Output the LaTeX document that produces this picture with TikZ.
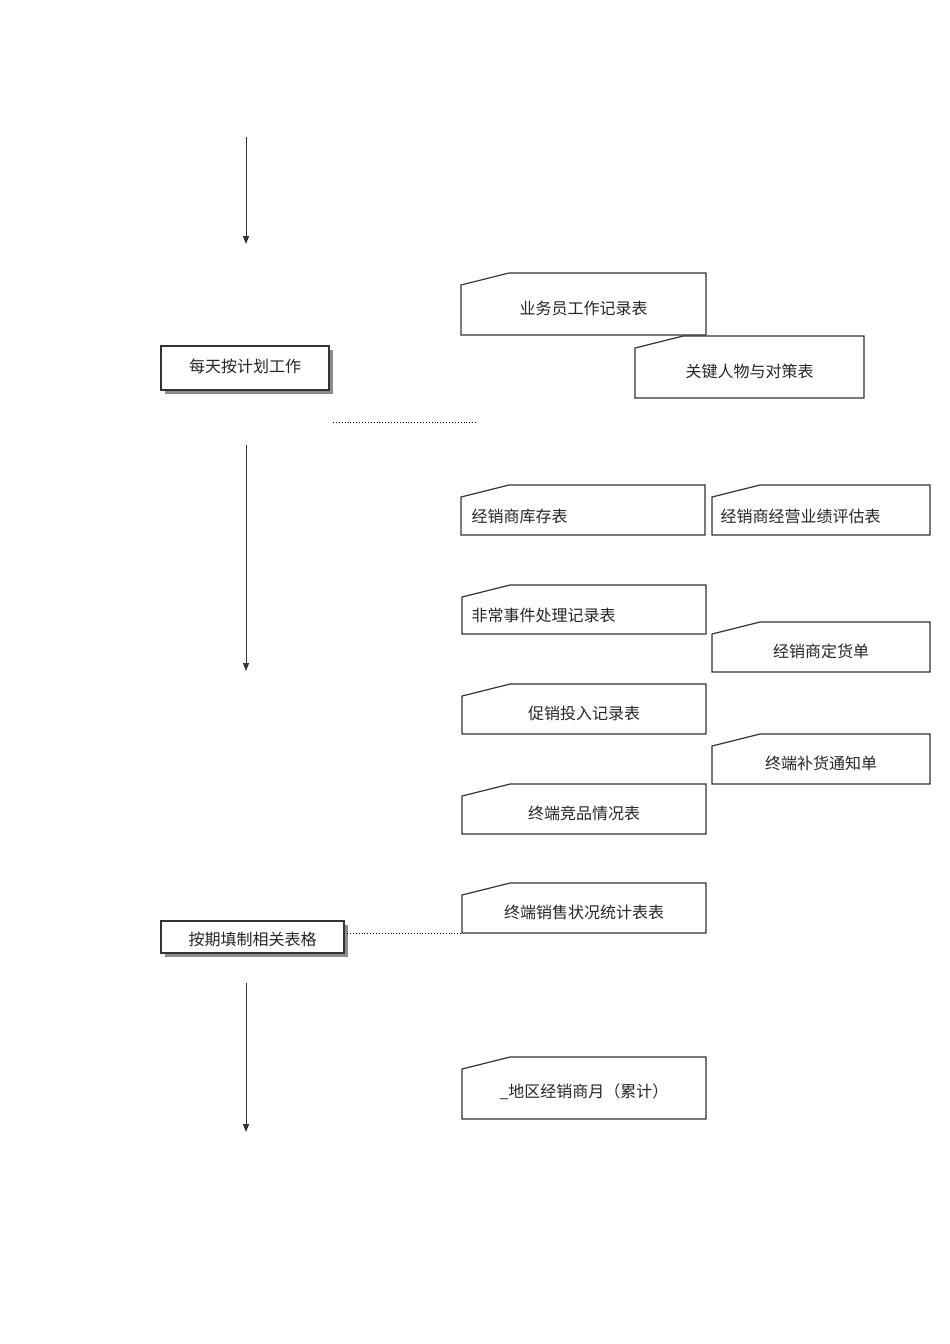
\documentclass[tikz,border=0pt]{standalone}
\usepackage{fontspec}
\setmainfont{Noto Sans CJK SC}
\usetikzlibrary{arrows.meta}
\begin{document}
\begin{tikzpicture}[x=1pt,y=-1pt,
 card/.style={draw=black!80,line width=1.2pt},
 lbl/.style={font=\fontsize{16}{18}\selectfont,text=black!85},
 arr/.style={-{Triangle[length=8pt,width=6pt]},line width=1pt,draw=black!80},
 dot/.style={dotted,line width=0.9pt}]
\useasboundingbox (0,0) rectangle (950,1344);
\newcommand\card[5]{% name,x1,y1,x2,y2
 \draw[card] (#2,#3+12) -- (#2+48,#3) -- (#4,#3) -- (#4,#5) -- (#2,#5) -- cycle;
 \coordinate (#1) at ({(#2+#4)/2},{(#3+#5)/2+4});
 \coordinate (#1-w) at (#2,#5);}
\card{c1}{461}{273}{706}{335}
\node[lbl] (t1) at (c1) {业务员工作记录表};
\card{c2}{635}{336}{864}{398}
\node[lbl] (t2) at (c2) {关键人物与对策表};
\card{c3}{461}{485}{705}{535}
\node[lbl,anchor=west] (t3) at (468,516) {经销商库存表};
\card{c4}{712}{485}{930}{535}
\node[lbl,anchor=west] (t4) at (717,516) {经销商经营业绩评估表};
\card{c5}{462}{585}{706}{634}
\node[lbl,anchor=west] (t5) at (468,615) {非常事件处理记录表};
\card{c6}{712}{622}{930}{672}
\node[lbl] (t6) at (c6) {经销商定货单};
\card{c7}{462}{684}{706}{734}
\node[lbl] (t7) at (c7) {促销投入记录表};
\card{c8}{712}{734}{930}{784}
\node[lbl] (t8) at (c8) {终端补货通知单};
\card{c9}{462}{784}{706}{834}
\node[lbl] (t9) at (c9) {终端竞品情况表};
\card{c10}{462}{883}{706}{933}
\node[lbl] (t10) at (c10) {终端销售状况统计表表};
\card{c11}{462}{1057}{706}{1119}
\node[lbl] (t11) at (c11) {\_地区经销商月（累计）};
% shadow boxes
\fill[black!45] (165,350) rectangle (333,394);
\draw[fill=white,line width=1.2pt,draw=black!80] (161,346) rectangle (329,390);
\node[lbl] (b1) at (245,366) {每天按计划工作};
\fill[black!45] (165,925) rectangle (348,957);
\draw[fill=white,line width=1.2pt,draw=black!80] (161,921) rectangle (344,953);
\node[lbl] (b2) at (252.5,939) {按期填制相关表格};
% arrows
\coordinate (a1s) at (246,137); \coordinate (a1e) at (246,244);
\coordinate (a2s) at (246,445); \coordinate (a2e) at (246,671);
\coordinate (a3s) at (246,983); \coordinate (a3e) at (246,1132);
\draw[arr] (a1s) -- (a1e);
\draw[arr] (a2s) -- (a2e);
\draw[arr] (a3s) -- (a3e);
\coordinate (d1s) at (333,422); \coordinate (d1e) at (477,422);
\draw[dot] (d1s) -- (d1e);
\coordinate (d2s) at (347,933);
\draw[dot] (d2s) -- (c10-w);
\end{tikzpicture}
\end{document}
